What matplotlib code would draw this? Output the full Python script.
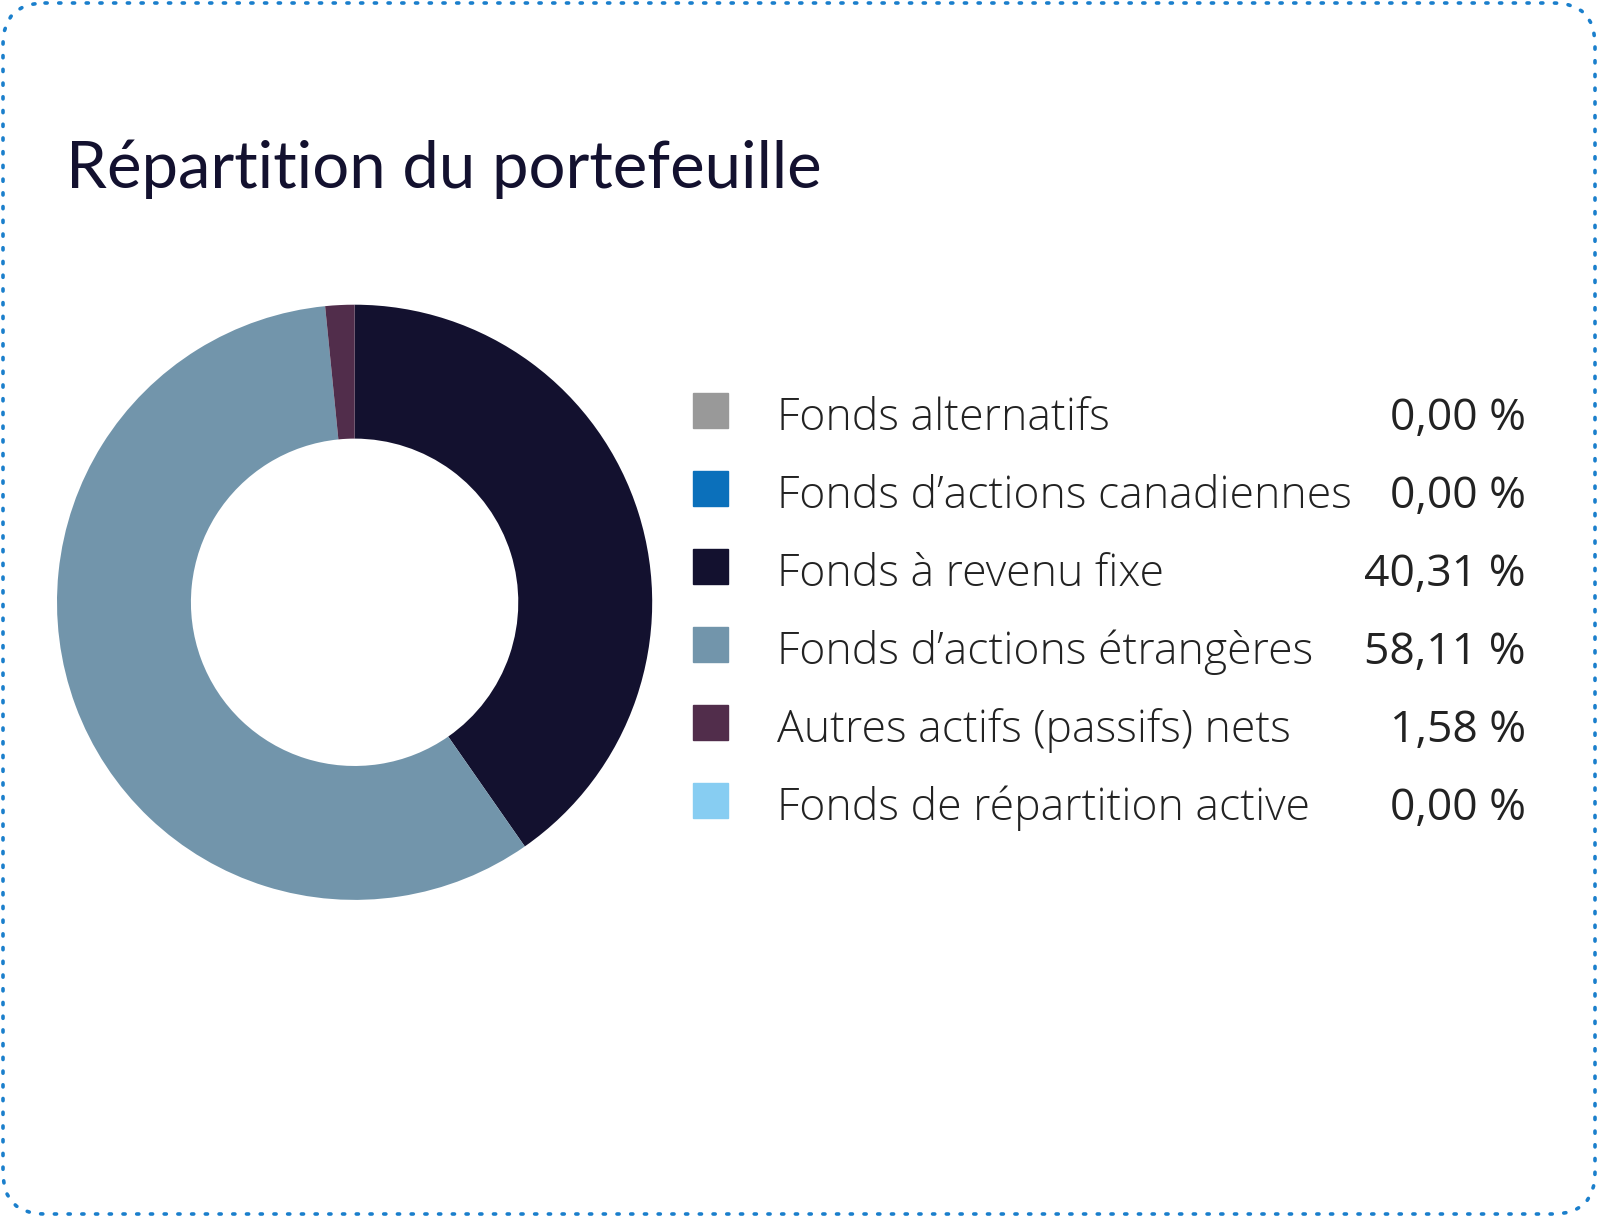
import matplotlib.pyplot as plt
from matplotlib.patches import FancyBboxPatch, Rectangle

# Portfolio breakdown (legend order)
categories = [
    "Fonds alternatifs",
    "Fonds d\u2019actions canadiennes",
    "Fonds à revenu fixe",
    "Fonds d\u2019actions étrangères",
    "Autres actifs (passifs) nets",
    "Fonds de répartition active",
]
weights = [0.00, 0.00, 40.31, 58.11, 1.58, 0.00]
colors = ["#999999", "#0b70bb", "#13112f", "#7295ab", "#512d4b", "#87cdf2"]

W, H = 1598, 1217
fig = plt.figure(figsize=(W / 100, H / 100), dpi=100)
fig.patch.set_facecolor("white")

# Background axes in pixel coordinates for card, title and legend
bg = fig.add_axes([0, 0, 1, 1])
bg.set_xlim(0, W)
bg.set_ylim(H, 0)
bg.axis("off")

card = FancyBboxPatch((3, 3), W - 6, H - 6,
                      boxstyle="round,pad=0,rounding_size=42",
                      fill=False, edgecolor="#1a7fcc", linewidth=2.6,
                      linestyle=(0, (0.6, 3.2)), capstyle="round")
bg.add_patch(card)

bg.text(66, 188, "Répartition du portefeuille", fontsize=47,
        family="Lato", color="#13112f", va="baseline", ha="left")

# Legend
row_y = 410
row_gap = 78
sq = 35
for i, (lab, val, c) in enumerate(zip(categories, weights, colors)):
    y = row_y + i * row_gap
    bg.add_patch(Rectangle((693, y - sq / 2), sq, sq, color=c))
    bg.text(777, y + 20, lab, fontsize=32, family="Open Sans", weight="light",
            color="#222222", va="baseline", ha="left")
    txt = f"{val:.2f}".replace(".", ",") + " %"
    bg.text(1526, y + 20, txt, fontsize=32, family="Open Sans",
            color="#222222", va="baseline", ha="right")

# Donut
R = 297.6
cx, cy = 354.6, 602.3
ax = fig.add_axes([(cx - R) / W, 1 - (cy + R) / H, 2 * R / W, 2 * R / H])
ax.pie(weights, colors=colors, startangle=90, counterclock=False,
       radius=1, wedgeprops=dict(width=0.45, linewidth=0))
ax.set_xlim(-1, 1)
ax.set_ylim(-1, 1)
ax.axis("off")

fig.savefig("out.png", dpi=100, facecolor="white")
